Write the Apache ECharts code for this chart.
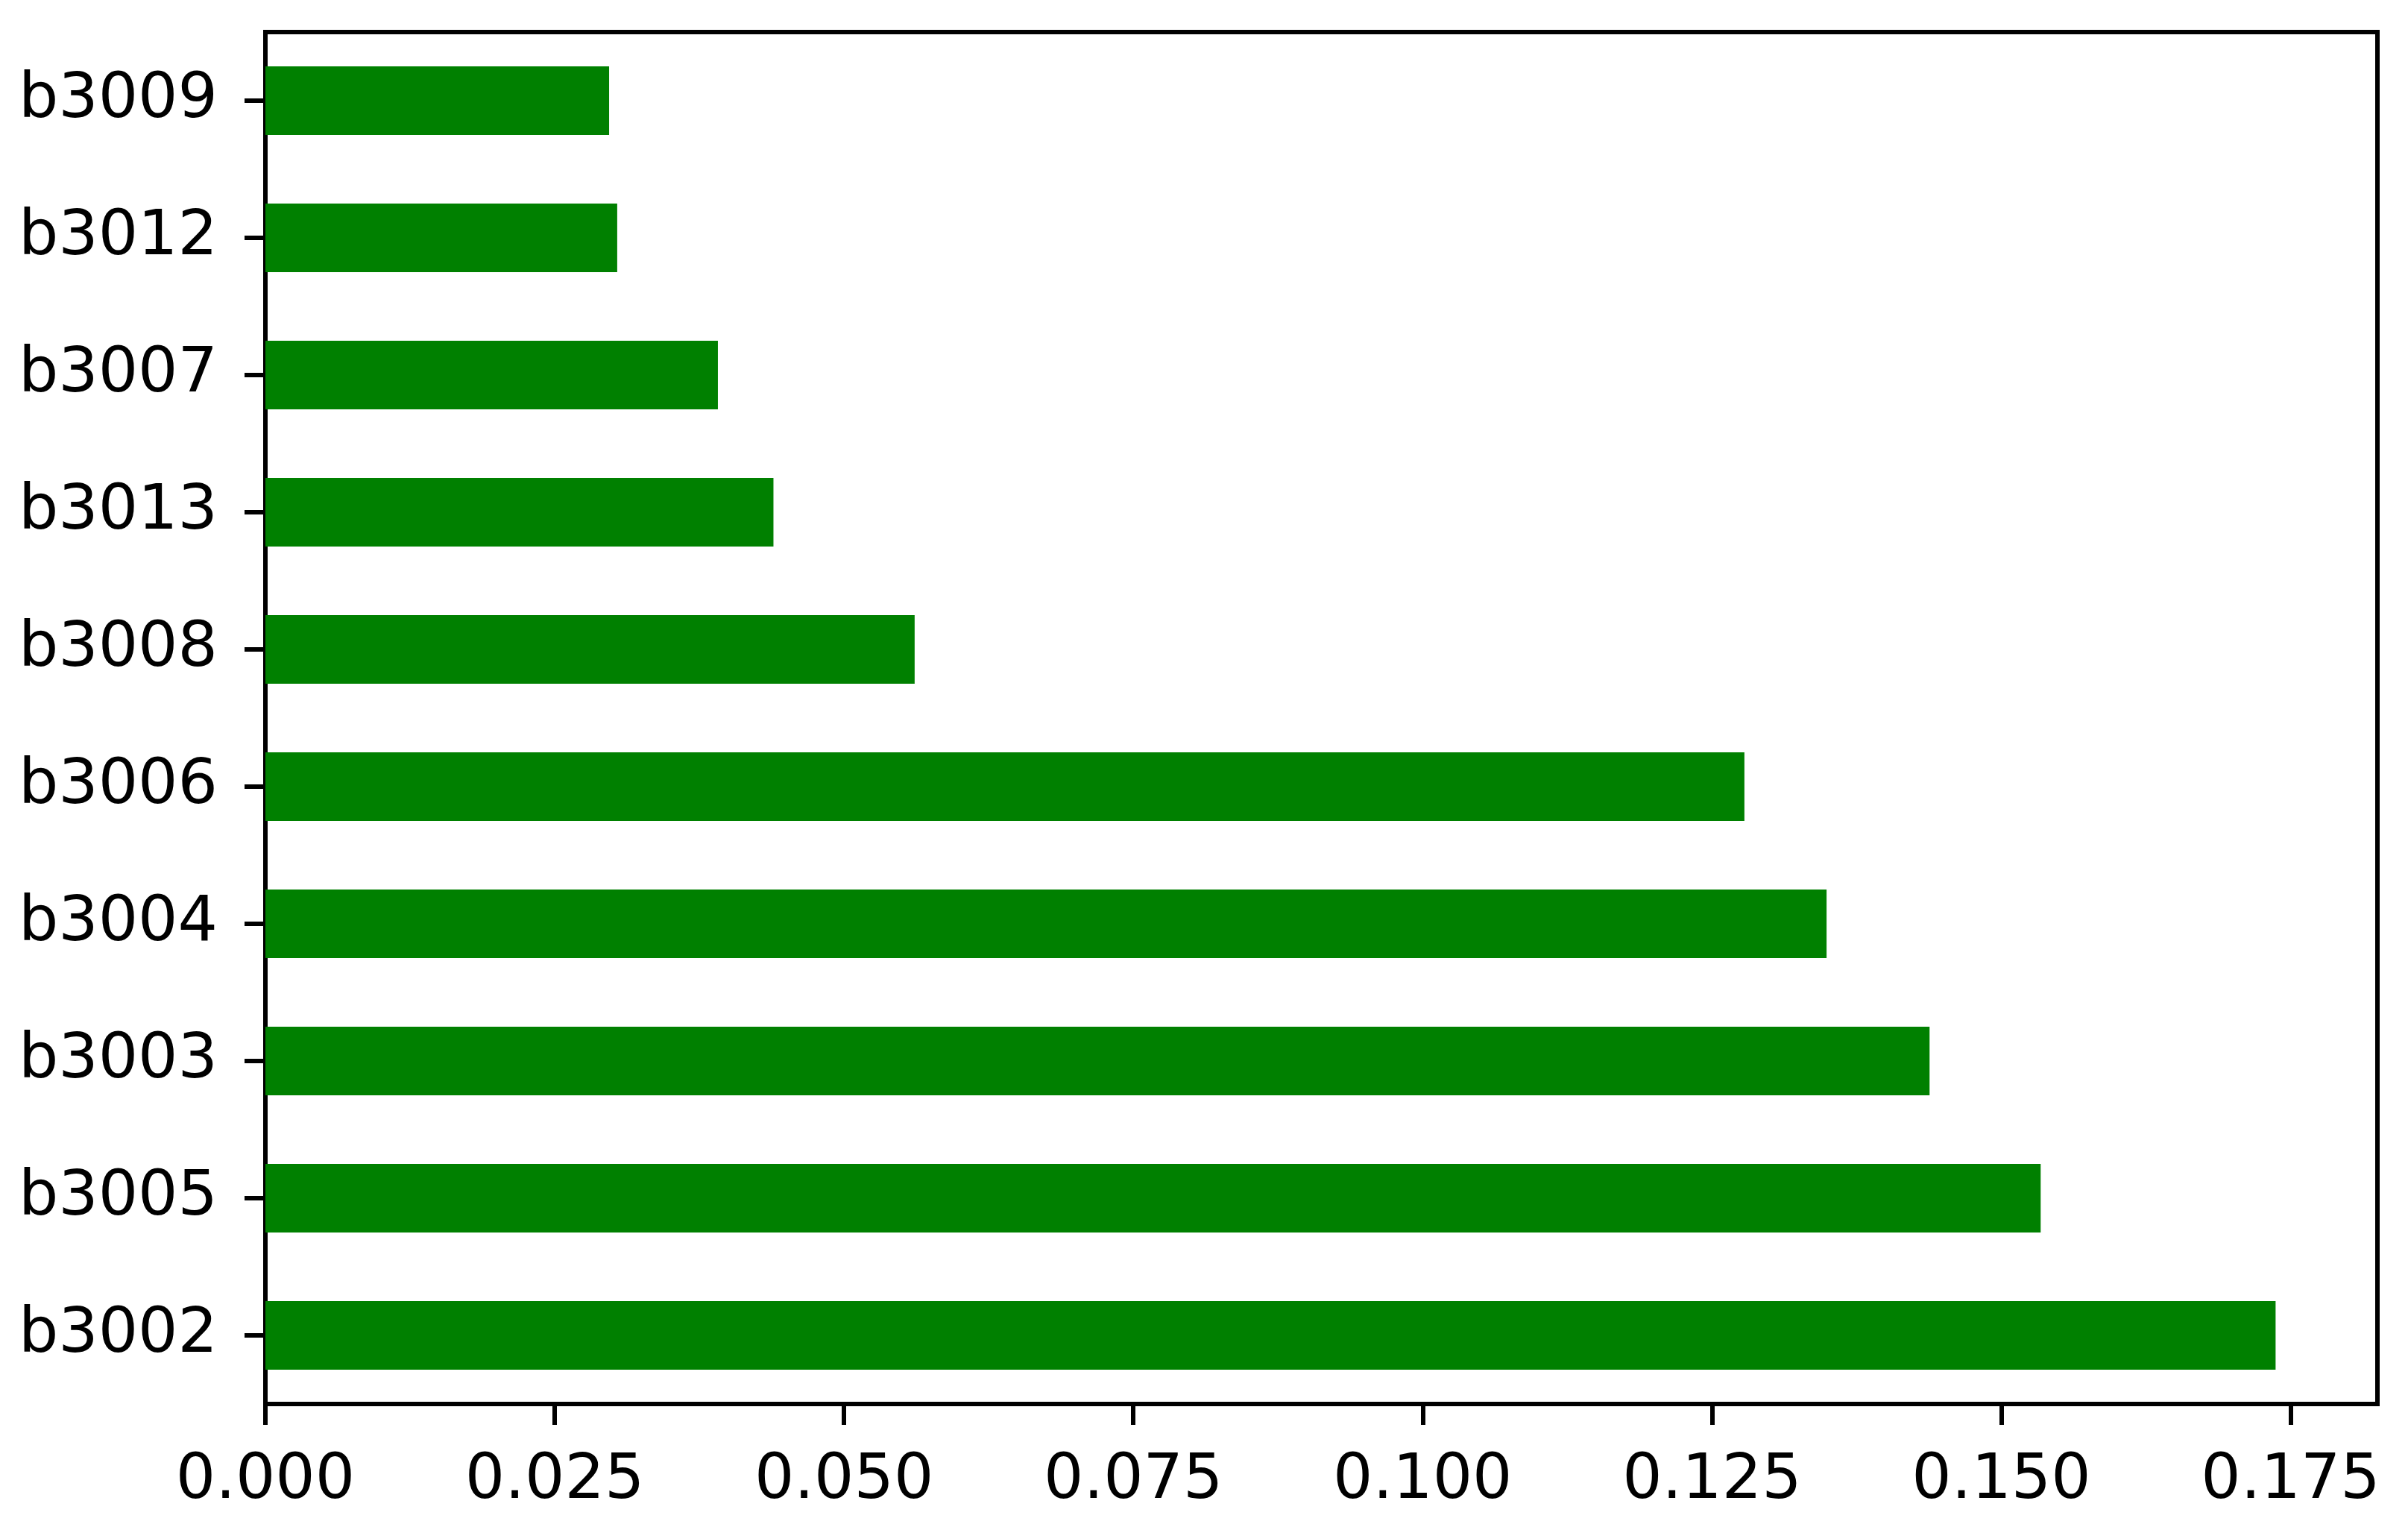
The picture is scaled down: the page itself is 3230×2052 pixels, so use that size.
<!DOCTYPE html>
<html>
<head>
<meta charset="utf-8">
<script src="https://cdn.jsdelivr.net/npm/echarts@6/dist/echarts.min.js"></script>
<style>
  html, body { margin: 0; padding: 0; background: #fff; }
  #chart { width: 3230px; height: 2052px; }
</style>
</head>
<body>
<div id="chart"></div>
<script>
// categories listed bottom to top
const genes = ['b3002', 'b3005', 'b3003', 'b3004', 'b3006', 'b3008', 'b3013', 'b3007', 'b3012', 'b3009'];
const importance = [0.1737, 0.1534, 0.1438, 0.1349, 0.1278, 0.0561, 0.0439, 0.0391, 0.0304, 0.0297];
const xTicks = [0, 0.025, 0.05, 0.075, 0.1, 0.125, 0.15, 0.175];

const font = 'DejaVu Sans';
const myChart = echarts.init(document.getElementById('chart'));

const option = {
  animation: false,
  backgroundColor: '#fff',
  grid: {
    left: 356,
    right: 41,
    top: 43,
    bottom: 169,
    show: true,
    borderColor: '#000',
    borderWidth: 6
  },
  xAxis: {
    type: 'value',
    min: 0,
    max: 0.1825,
    splitLine: { show: false },
    axisLine: { show: true, lineStyle: { color: '#000', width: 6 } },
    axisTick: {
      show: true,
      length: 28,
      customValues: xTicks,
      lineStyle: { color: '#000', width: 6 }
    },
    axisLabel: {
      customValues: xTicks,
      margin: 62,
      fontFamily: font,
      fontSize: 84,
      color: '#000',
      formatter: v => v.toFixed(3)
    }
  },
  yAxis: {
    type: 'category',
    data: genes,
    axisLine: { show: true, lineStyle: { color: '#000', width: 6 } },
    axisTick: {
      show: true,
      alignWithLabel: true,
      length: 28,
      lineStyle: { color: '#000', width: 6 }
    },
    axisLabel: {
      margin: 64,
      padding: [20, 0, 0, 0],
      fontFamily: font,
      fontSize: 84,
      color: '#000'
    }
  },
  series: [
    {
      type: 'bar',
      data: importance,
      barWidth: '50%',
      itemStyle: { color: '#008000' }
    }
  ]
};

myChart.setOption(option);
</script>
</body>
</html>
